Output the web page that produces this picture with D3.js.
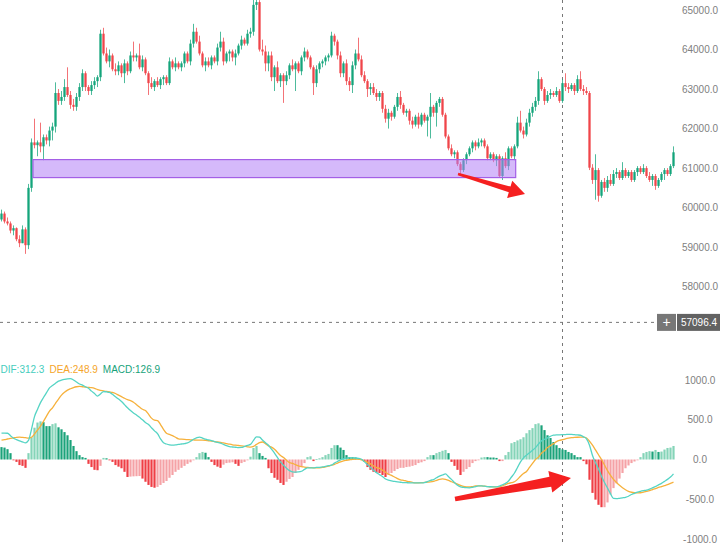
<!DOCTYPE html>
<html><head><meta charset="utf-8">
<script src="https://cdn.jsdelivr.net/npm/d3@7/dist/d3.min.js"></script>
<style>html,body{margin:0;padding:0;background:#fff;overflow:hidden}svg{display:block;font-family:"Liberation Sans",Arial,Helvetica,sans-serif}</style>
</head><body>
<svg id="c" width="720" height="546"></svg>
<script>
const open=[59700,59850,59650,59600,59420,59480,59200,59100,59450,59050,60500,61650,61580,61650,61550,61780,61700,61950,62050,62900,62700,62800,63050,62850,62600,62550,62800,63050,63400,63050,62950,63100,63200,63300,64400,63900,63700,63850,63500,63450,63600,63400,63650,63450,63850,63800,63850,63550,63750,63400,63150,63050,63200,63100,63250,63300,63150,63700,63550,63650,63550,63650,63900,63700,64150,64450,64200,63900,63600,63700,63600,63800,63700,64050,64200,63700,63900,63950,63800,63900,64100,64250,64150,64400,64450,65130,65200,64000,63950,63650,63850,63300,63550,63200,63350,63200,63350,63600,63500,63650,63450,63800,63950,63800,63550,63150,63500,63650,63700,63800,63850,64350,64200,63850,63400,63650,63200,63100,63600,63900,63750,63350,63200,63000,63050,62900,62800,62900,62500,62250,62400,62300,62550,62800,62600,62400,62450,62200,62100,62300,62100,62350,62200,62300,62550,62400,62650,62750,62350,61800,61500,61350,61400,61100,60950,61200,61350,61500,61650,61550,61650,61700,61550,61250,61350,61200,61300,60800,61250,61050,61500,61300,61550,62150,61950,61850,62150,62400,62550,62700,63250,63000,62700,62850,62900,62850,62950,62700,63150,63050,63000,63100,62950,63250,63000,62950,62900,61010,60700,60950,60300,60650,60500,60700,60600,60850,60900,60750,60950,60800,60900,60700,60900,61000,60900,61000,60800,60700,60800,60550,60700,60850,60950,60850,61050];
const high=[59950,59900,59750,59650,59550,59500,59300,59550,59500,60600,61750,62250,61700,62150,61850,61850,62050,62150,63170,63000,62950,63250,63550,62950,62750,62900,63150,63500,63450,63100,63200,63300,63350,64500,64550,64050,64000,63900,63650,63700,63650,63750,63700,63950,64200,63900,64150,63850,63800,63450,63300,63250,63300,63300,63350,63350,63800,63750,63800,63700,63700,63950,63950,64250,64650,64550,64350,63950,63800,63800,63850,63850,64150,64450,64300,63950,64000,64000,64000,64150,64350,64300,64500,64550,65280,65300,65250,64250,64100,63950,63950,63600,63700,63400,63400,63450,63650,63750,63700,63700,63850,64050,64000,63850,63600,63600,63700,63750,63850,63900,64450,64400,64250,63950,63700,63750,63300,63700,64000,64300,63850,63450,63250,63150,63150,63000,62950,62950,62600,62500,62450,62600,62900,62950,62650,62500,62500,62300,62350,62400,62400,62400,62350,62900,62600,62700,62800,62800,62400,61850,61600,61450,61450,61150,61250,61400,61550,61700,61700,61750,61750,61750,61600,61400,61400,61350,61350,61300,61400,61550,61550,61600,62300,62450,62050,62250,62500,62650,62800,63450,63300,63050,62950,63000,62950,63050,63000,63250,63400,63150,63150,63150,63350,63450,63100,63050,62950,61100,61350,61000,60700,60750,60800,60850,60950,61000,60950,61150,61000,60950,60950,60950,61050,61050,61100,61050,60900,60850,60850,60750,60900,61000,61000,61100,61550];
const low=[59650,59600,59550,59350,59300,59150,59000,59100,58830,58950,60400,61500,61300,61400,61200,61600,61550,61700,61900,62600,62600,62700,62800,62500,62450,62450,62700,62950,62950,62850,62850,63000,63050,63200,63850,63650,63550,63450,63350,63350,63300,63150,63350,63400,63700,63700,63500,63450,63350,62850,63000,62950,63050,63000,63100,63100,63100,63500,63450,63500,63450,63550,63650,63600,64050,64150,63850,63550,63450,63550,63500,63650,63600,63950,63600,63650,63700,63700,63600,63850,64000,64100,64100,64300,64350,65000,63950,63850,63450,63450,63200,62950,63150,63050,62650,63100,63250,63450,62950,63400,63350,63700,63750,63500,62850,63050,63400,63550,63600,63700,63800,64100,63750,63300,63300,63100,62950,62900,63500,63700,63300,63150,62800,62850,62850,62700,62700,62400,62150,62000,62200,62250,62450,62500,62350,62300,62100,62000,62050,62000,62050,62150,61800,61750,62300,62050,62550,62300,61750,61450,61300,61250,61050,60850,60900,61100,61300,61400,61450,61500,61550,61500,61200,61200,61150,61050,60750,60700,61000,60950,61250,61200,61500,61900,61750,61800,62050,62300,62450,62600,62950,62600,62650,62750,62800,62800,62650,62650,62950,62900,62950,62850,62900,62950,62850,62850,60950,60600,60200,60150,60250,60400,60400,60550,60550,60750,60700,60700,60750,60750,60650,60650,60800,60850,60850,60750,60650,60550,60450,60500,60650,60700,60800,60800,61000];
const close=[59850,59650,59600,59420,59480,59200,59100,59450,59050,60500,61650,61580,61650,61550,61780,61700,61950,62050,62900,62700,62800,63050,62850,62600,62550,62800,63050,63400,63050,62950,63100,63200,63300,64400,63900,63700,63850,63500,63450,63600,63400,63650,63450,63850,63800,63850,63550,63750,63400,63150,63050,63200,63100,63250,63300,63150,63700,63550,63650,63550,63650,63900,63700,64150,64450,64200,63900,63600,63700,63600,63800,63700,64050,64200,63700,63900,63950,63800,63900,64100,64250,64150,64400,64450,65130,65200,64000,63950,63650,63850,63300,63550,63200,63350,63200,63350,63600,63500,63650,63450,63800,63950,63800,63550,63150,63500,63650,63700,63800,63850,64350,64200,63850,63400,63650,63200,63100,63600,63900,63750,63350,63200,63000,63050,62900,62800,62900,62500,62250,62400,62300,62550,62800,62600,62400,62450,62200,62100,62300,62100,62350,62200,62300,62550,62400,62650,62750,62350,61800,61500,61350,61400,61100,60950,61200,61350,61500,61650,61550,61650,61700,61550,61250,61350,61200,61300,60800,61250,61050,61500,61300,61550,62150,61950,61850,62150,62400,62550,62700,63250,63000,62700,62850,62900,62850,62950,62700,63150,63050,63000,63100,62950,63250,63000,62950,62900,61010,60700,60950,60300,60650,60500,60700,60600,60850,60900,60750,60950,60800,60900,60700,60900,61000,60900,61000,60800,60700,60800,60550,60700,60850,60950,60850,61050,61400];

const dif=[331,332,330,300,268,250,234,222,210,240,380,540,630,715,780,840,900,930,960,985,998,1008,1015,1018,1000,975,950,935,915,895,860,830,798,825,855,850,845,820,790,760,730,690,650,615,585,560,530,500,465,440,400,360,325,260,210,195,185,180,183,190,195,200,208,230,255,272,282,270,255,246,238,225,215,205,190,175,162,157,154,150,152,165,178,190,240,285,280,245,210,180,130,80,25,-30,-72,-110,-140,-155,-158,-156,-148,-125,-106,-105,-106,-100,-98,-94,-86,-78,-70,-45,-25,-5,8,18,20,20,19,15,3,-30,-65,-100,-135,-165,-190,-215,-245,-260,-268,-276,-282,-286,-290,-292,-294,-295,-294,-294,-294,-290,-278,-262,-252,-230,-210,-195,-182,-215,-250,-290,-325,-344,-350,-354,-356,-350,-340,-332,-332,-336,-340,-343,-344,-344,-335,-318,-300,-270,-220,-170,-100,-30,20,55,85,115,150,195,235,255,272,292,306,310,311,312.3,314,316,315,312,309,305,285,260,180,50,-40,-120,-210,-290,-360,-430,-490,-492,-488,-482,-475,-462,-440,-425,-410,-400,-392,-385,-372,-356,-340,-320,-300,-275,-250,-220,-180];
const dea=[244,250,258,265,272,279,281,278,274,270,280,320,370,420,480,545,610,650,705,760,810,845,872,890,905,915,919,915,910,907,903,895,880,870,862,856,850,844,830,810,790,770,752,740,720,690,660,632,615,570,520,495,490,440,380,330,315,300,280,260,255,252,250,248,246,244,244,243,240,236,232,226,220,214,208,200,192,185,180,176,172,166,160,156,165,190,212,220,200,170,156,130,90,50,25,-10,-40,-50,-65,-80,-90,-95,-99,-102,-105,-106,-104,-100,-92,-82,-72,-60,-45,-30,-18,-10,-3,3,6,4,-5,-22,-35,-55,-80,-102,-112,-135,-160,-185,-200,-220,-240,-255,-262,-272,-280,-288,-294,-294,-292,-288,-285,-282,-275,-262,-250,-244,-250,-262,-280,-294,-310,-325,-338,-344,-346,-340,-333,-331,-331,-336,-340,-344,-345,-345,-344,-330,-315,-300,-292,-280,-250,-210,-175,-150,-100,-50,0,30,80,110,150,175,200,225,240,248.9,260,268,274,278,280,281,281,270,230,180,120,60,0,-70,-140,-200,-250,-290,-325,-355,-380,-400,-412,-418,-420,-418,-410,-400,-390,-378,-366,-352,-340,-328,-316,-300,-285];
const macd=[156,150,130,80,-10,-30,-70,-80,-105,80,280,400,465,480,470,420,420,445,455,405,380,345,305,245,170,105,55,30,20,-55,-95,-130,-135,-80,20,15,-5,-30,-70,-90,-110,-155,-220,-215,-212,-210,-208,-240,-280,-320,-345,-355,-345,-320,-295,-270,-230,-195,-155,-130,-105,-80,-55,-35,-5,30,80,95,85,30,-30,-70,-90,-105,-65,-45,-40,-35,-55,-80,-45,-30,-10,35,145,170,80,45,20,-110,-170,-230,-255,-295,-320,-280,-245,-220,-170,-130,-95,-45,30,40,-20,5,15,30,55,70,145,180,180,150,120,55,30,30,25,18,5,-30,-95,-130,-155,-165,-170,-195,-220,-195,-170,-145,-120,-105,-105,-95,-90,-80,-70,-45,-35,-20,30,55,55,80,95,110,120,80,-30,-80,-130,-195,-155,-120,-95,-45,-20,-8,25,30,30,25,25,20,-20,-20,55,95,205,220,240,255,280,330,370,395,445,455,430,370,305,270,220,180,145,126.9,120,95,80,55,30,30,-20,-60,-255,-420,-505,-570,-600,-600,-540,-440,-360,-300,-240,-170,-110,-75,-45,-25,-8,30,80,95,105,100,120,95,100,125,145,150,170];

const priceTicks=[58000,59000,60000,61000,62000,63000,64000,65000];
const macdTicks=[-1000,-500,0,500,1000];
const crossIndex=187;
const crossPrice=57096.4;
const zone={from:11,to:171.9,low:60760,high:61215};

const svg=d3.select("#c");
const N=open.length;
const xI=d3.scaleLinear().domain([0,N]).range([0,675]);
const yP=d3.scaleLinear().domain([57000,65000]).range([326.2,10]);
const yM=d3.scaleLinear().domain([-1000,1000]).range([539,380]);
const cx=i=>xI(i+0.5);
const UP="#14a57b",DN="#f0454a";

// crosshair
const ch=svg.append("g").attr("stroke","#777").attr("stroke-dasharray","3,4").attr("stroke-width",1);
ch.append("line").attr("x1",cx(crossIndex)).attr("x2",cx(crossIndex)).attr("y1",0).attr("y2",546);
ch.append("line").attr("x1",0).attr("x2",656).attr("y1",yP(crossPrice)).attr("y2",yP(crossPrice));

// candles
const cg=svg.append("g");
const idx=d3.range(N);
cg.selectAll("line.w").data(idx).join("line")
 .attr("x1",i=>cx(i)).attr("x2",i=>cx(i))
 .attr("y1",i=>yP(high[i])).attr("y2",i=>yP(low[i]))
 .attr("stroke",i=>close[i]>=open[i]?UP:DN).attr("stroke-width",1).attr("opacity",0.75);
cg.selectAll("rect.b").data(idx).join("rect")
 .attr("x",i=>cx(i)-1.15).attr("width",2.3)
 .attr("y",i=>yP(Math.max(open[i],close[i])))
 .attr("height",i=>Math.max(1,Math.abs(yP(open[i])-yP(close[i]))))
 .attr("fill",i=>close[i]>=open[i]?UP:DN);

// zone
svg.append("rect").attr("x",xI(zone.from)).attr("width",xI(zone.to)-xI(zone.from))
 .attr("y",yP(zone.high)).attr("height",yP(zone.low)-yP(zone.high))
 .attr("fill","rgba(178,128,245,0.55)").attr("stroke","#a45fe6").attr("stroke-width",1.2);

// macd histogram
const hg=svg.append("g");
hg.selectAll("rect").data(idx).join("rect")
 .attr("x",i=>cx(i)-1.1).attr("width",2.2)
 .attr("y",i=>Math.min(yM(0),yM(macd[i])))
 .attr("height",i=>Math.max(0.8,Math.abs(yM(macd[i])-yM(0))))
 .attr("fill",i=>{const v=macd[i],p=i>0?macd[i-1]:v;
   if(v>=0) return v>p?"#85d4b8":"#1ba37a";
   return v<p?"#ef3e45":"#f5a2a6";});

const line=d3.line().x((d,i)=>cx(i)).y(d=>yM(d)).curve(d3.curveMonotoneX);
svg.append("path").attr("d",line(dea)).attr("fill","none").attr("stroke","#f6b13c").attr("stroke-width",1.3);
svg.append("path").attr("d",line(dif)).attr("fill","none").attr("stroke","#55d4c4").attr("stroke-width",1.3);

// arrows
function arrow(p0,p1,w0,w1,hl,hw){
 const dx=p1[0]-p0[0],dy=p1[1]-p0[1],L=Math.hypot(dx,dy),ux=dx/L,uy=dy/L,nx=-uy,ny=ux;
 const bx=p1[0]-ux*hl,by=p1[1]-uy*hl;
 const pts=[[p0[0]+nx*w0,p0[1]+ny*w0],[bx+nx*w1,by+ny*w1],[bx+nx*hw,by+ny*hw],p1,[bx-nx*hw,by-ny*hw],[bx-nx*w1,by-ny*w1],[p0[0]-nx*w0,p0[1]-ny*w0]];
 svg.append("polygon").attr("points",pts.map(p=>p.join(",")).join(" ")).attr("fill","#f52020");
}
arrow([xI(152.67),yP(60851)],[xI(175),yP(60345)],1.2,3,16,9);
arrow([xI(151.67),yM(-497)],[xI(190.33),yM(-233)],2.2,5,21,11);

// axes
const ap=svg.append("g").attr("transform","translate(700,0)")
 .call(d3.axisRight(yP).tickValues(priceTicks).tickSize(0).tickFormat(d=>d.toFixed(1)));
const am=svg.append("g").attr("transform","translate(700,0)")
 .call(d3.axisRight(yM).tickValues(macdTicks).tickSize(0).tickFormat(d=>d.toFixed(1)));
[ap,am].forEach(a=>{a.select(".domain").remove();
 a.selectAll("text").attr("x",0).attr("text-anchor","middle").attr("fill","#808080")
  .style("font-size","10px").style("font-family","'Liberation Sans',Arial,sans-serif");});

// crosshair labels
const yc=yP(crossPrice);
svg.append("rect").attr("x",657).attr("y",yc-8.5).attr("width",19).attr("height",17).attr("fill","#777");
svg.append("text").attr("x",666.5).attr("y",yc).attr("dy","0.36em").attr("text-anchor","middle").attr("fill","#fff").style("font-size","14px").text("+");
svg.append("rect").attr("x",677).attr("y",yc-8.5).attr("width",43).attr("height",17).attr("fill","#626262");
svg.append("text").attr("x",699).attr("y",yc).attr("dy","0.36em").attr("text-anchor","middle").attr("fill","#fff").style("font-size","10px").text(crossPrice.toFixed(1));

// legend
const lg=[["DIF",dif[crossIndex],"#45cdbd"],["DEA",dea[crossIndex],"#f5a52a"],["MACD",macd[crossIndex],"#17a27a"]];
let lx=0.5;
lg.forEach(([n,v,c])=>{const t=svg.append("text").attr("x",lx).attr("y",373).attr("fill",c).style("font-size","10px").text(n+":"+v.toFixed(1));
 lx+=t.node().getComputedTextLength()+5;});
</script>
</body></html>
